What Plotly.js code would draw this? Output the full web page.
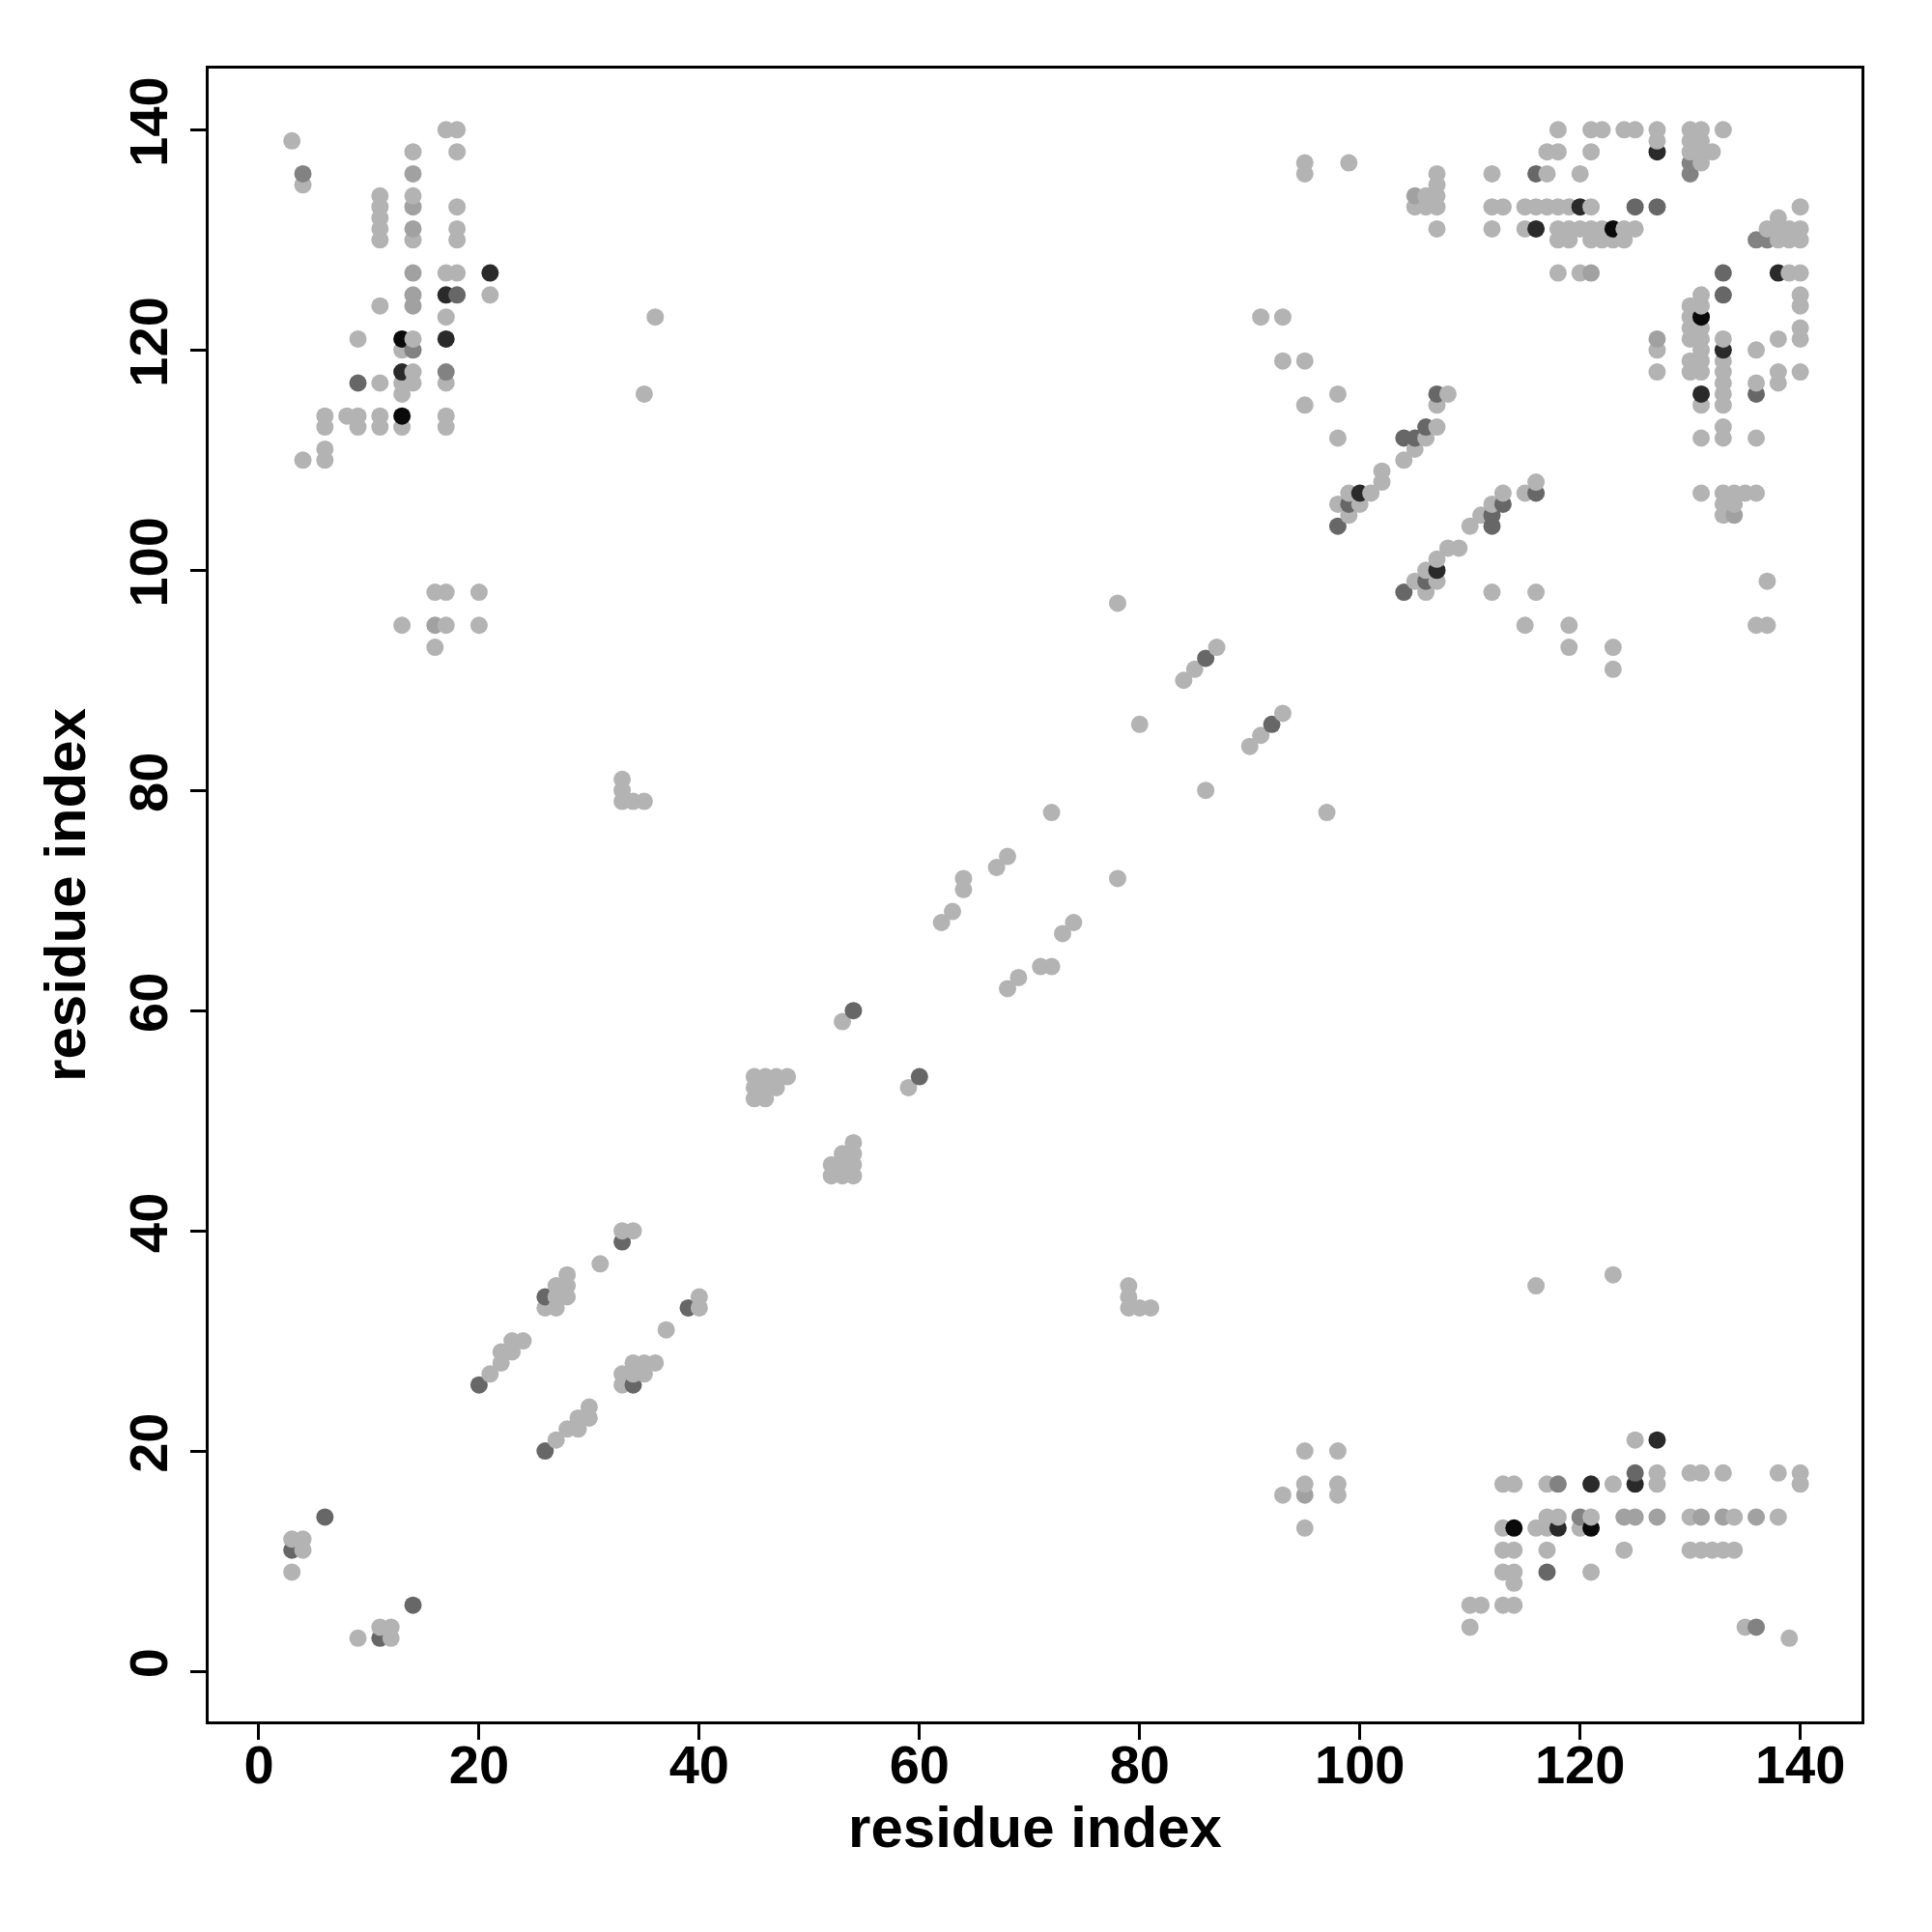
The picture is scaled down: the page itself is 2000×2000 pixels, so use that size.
<!DOCTYPE html>
<html>
<head>
<meta charset="utf-8">
<script src="https://cdn.plot.ly/plotly-3.0.1.min.js"></script>
<style>html,body{margin:0;padding:0;background:#ffffff;}</style>
</head>
<body>
<div id="chart" style="width:2000px;height:2000px;"></div>
<script>
// Contact pairs (residue i < residue j), each is drawn at (i,j) and (j,i)
const contactI = [
  3,3,3,4,4,6,
  20,21,22,22,23,23,24, 26,26,27,27,27,28,28,28,31,33,33,34,
  45,45,45,46,46,46,47,47,48, 53,54,62,63,64,64,67,68,72,78,80,84,85,86,87,
  33,34,35,33,33,35,36, 16,13,16,17,20,16,17,20,
  4,6,6,6,6,8,9,9,11,11,13,13,17,17,
  9,11,13,13,14,17,13,14,17,
  13,14,9,13,14,17,17,11,14,14,17,18,21,
  14,17,18,21,
  11,11,11,11,11,14,14,14,14,14,14,18,18,18,18,17,18,
  4,4,3,
  91,93,93,95,95,98,98,95,95,99,
  98,98,99,99,99,100,100,101,102,102,104,105,104,105,106,106,107,107,107,108,
  105,105,106,106,107,107,107,107,107,112,112,113,112,
  115,116,117,118,119,120,121,125,127,
  115,116,118,119,120,121,122,123,124,125,
  118,119,121,122,123,124,
  116,117,120, 117,118,121, 118,121,122,124,125,127,130,131,133, 127,130,131, 127,130,131,132, 130,131,130, 118,120,121
];
const contactJ = [
  9,11,12,11,12,14,
  26,27,28,29,29,30,30, 33,34,33,34,35,34,35,36,37,39,40,40,
  52,53,54,52,53,54,53,54,54, 59,60,68,69,71,72,73,74,78,97,86,90,91,92,93,
  79,79,79,80,81,116,123, 93,95,95,95,95,98,98,98,
  110,110,111,113,114,114,113,114,113,114,113,114,113,114,
  117,117,116,117,117,117,118,118,118,
  120,120,121,121,121,121,123,124,124,125,125,125,125,
  127,127,127,127,
  130,131,132,133,134,130,131,133,134,136,138,130,131,133,138,140,140,
  135,136,139,
  123,123,119,119,115,116,112,136,137,137,
  104,106,105,106,107,106,107,107,108,109,110,111,112,112,112,113,113,115,116,116,
  133,134,133,134,131,133,134,135,136,131,133,133,136,
  133,133,133,133,133,133,133,133,133,
  131,131,131,131,131,131,131,131,131,131,
  130,130,130,130,130,130,
  136,136,136, 138,138,138, 140,140,140,140,140,140,140,140,140, 139,139,139, 138,138,138,138, 137,137,136, 127,127,127
];
// grey level of each contact: 1 = light grey ... 6 = black
const contactLevel = [
  1,4,1,1,1,4,
  4,1,1,1,1,1,1, 1,4,1,1,1,1,1,1,1,4,1,1,
  1,1,1,1,1,1,1,1,1, 1,4,1,1,1,1,1,1,1,1,1,1,1,4,1,
  1,1,1,1,1,1,1, 1,1,2,1,1,1,1,1,
  1,1,1,1,1,1,1,1,1,1,1,6,1,1,
  4,1,1,1,1,1,5,1,3,
  1,3,1,6,1,5,1,1,2,2,5,4,1,
  2,1,1,5,
  1,1,1,1,1,1,2,2,1,2,1,1,1,1,1,1,1,
  1,3,1,
  1,1,1,1,1,1,1,1,1,1,
  4,1,1,4,1,1,5,1,1,1,1,1,4,4,1,4,1,1,4,1,
  1,2,1,1,1,1,1,1,1,1,1,1,1,
  1,1,1,1,1,5,1,4,4,
  1,5,1,1,1,1,1,6,1,1,
  1,1,1,1,1,1,
  4,1,1, 1,1,1, 1,1,1,1,1,1,1,1,1, 1,1,1, 5,1,1,1, 3,1,3, 1,1,2
];
const greyLevels = ['#b3b3b3','#a1a1a1','#828282','#676767','#2a2a2a','#0a0a0a'];
const tickValues = [0,20,40,60,80,100,120,140];
const axisLabel = 'residue index';

// each contact appears at both (i,j) and (j,i); draw in order of x then y
const pts = [];
for (let k = 0; k < contactI.length; k++) {
  pts.push({x: contactI[k], y: contactJ[k], c: contactLevel[k]});
  pts.push({x: contactJ[k], y: contactI[k], c: contactLevel[k]});
}
pts.sort((a, b) => (a.x - b.x) || (a.y - b.y));

const scale = greyLevels.map((col, idx) => [idx / (greyLevels.length - 1), col]);

const trace = {
  type: 'scatter',
  mode: 'markers',
  x: pts.map(p => p.x),
  y: pts.map(p => p.y),
  marker: {
    size: 18,
    color: pts.map(p => p.c),
    colorscale: scale,
    cmin: 1, cmax: greyLevels.length,
    showscale: false,
    line: {width: 0}
  },
  hoverinfo: 'x+y'
};

const fontFam = 'Liberation Sans, Arial, Helvetica, sans-serif';
const axisCommon = {
  range: [-4.56, 145.56],
  tickvals: tickValues,
  ticktext: tickValues.map(String),
  ticks: 'outside',
  ticklen: 16,
  tickwidth: 3,
  tickcolor: '#000',
  showline: true,
  linewidth: 3,
  linecolor: '#000',
  mirror: true,
  showgrid: false,
  zeroline: false,
  automargin: false,
  tickfont: {family: fontFam, size: 56, color: '#000', weight: 'bold'}
};

const layout = {
  width: 2000,
  height: 2000,
  paper_bgcolor: '#ffffff',
  plot_bgcolor: '#ffffff',
  showlegend: false,
  margin: {l: 216, r: 73, t: 71, b: 218},
  xaxis: Object.assign({}, axisCommon, {
    ticklabelstandoff: -22,
    title: {text: axisLabel, font: {family: fontFam, size: 60, color: '#000', weight: 'bold'}, standoff: 8}
  }),
  yaxis: Object.assign({}, axisCommon, {
    tickangle: -90,
    ticklabelstandoff: 2,
    title: {text: axisLabel, font: {family: fontFam, size: 60, color: '#000', weight: 'bold'}, standoff: 14}
  })
};

Plotly.newPlot('chart', [trace], layout, {staticPlot: true, displayModeBar: false});
</script>
</body>
</html>
